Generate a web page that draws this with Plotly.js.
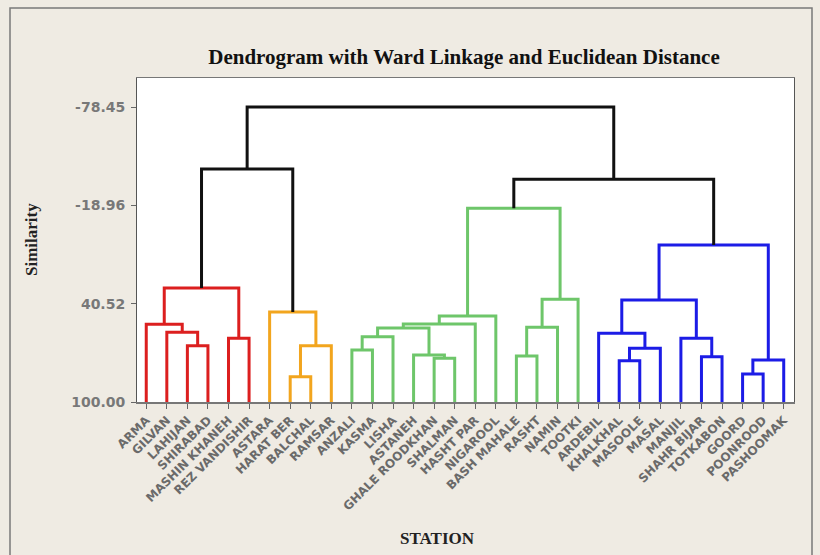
<!DOCTYPE html>
<html>
<head>
<meta charset="utf-8">
<script src="https://cdn.plot.ly/plotly-3.0.1.min.js"></script>
<style>html,body{margin:0;padding:0;background:#efebe3;}#chart{width:820px;height:555px;}</style>
</head>
<body>
<div id="chart"></div>
<script>
// ---- data ----
const stations = ["ARMA","GILVAN","LAHIJAN","SHIRABAD","MASHIN KHANEH","REZ VANDISHIR",
  "ASTARA","HARAT BER","BALCHAL","RAMSAR",
  "ANZALI","KASMA","LISHA","ASTANEH","GHALE ROODKHAN","SHALMAN","HASHT PAR","NIGAROOL","BASH MAHALE","RASHT","NAMIN","TOOTKI",
  "ARDEBIL","KHALKHAL","MASOOLE","MASAL","MANJIL","SHAHR BIJAR","TOTKABON","GOORD","POONROOD","PASHOOMAK"];
const leafCluster = [1,1,1,1,1,1, 2,2,2,2, 3,3,3,3,3,3,3,3,3,3,3,3, 4,4,4,4,4,4,4,4,4,4];
// merges: node ids 0..31 are leaves, merge k creates node 32+k
const mergeLeft   = [2, 1, 0, 4, 34,  7, 37, 6, 36,  10, 41, 14, 13, 42, 45, 46, 18, 48, 49, 47,  23, 52, 22, 27, 26, 54, 29, 58, 57,  51, 40];
const mergeRight  = [3,32,33, 5, 35,  8,  9,38, 39,  11, 12, 15, 43, 44, 16, 17, 19, 20, 21, 50,  24, 25, 53, 28, 55, 56, 30, 31, 59,  60, 61];
const mergeHeight = [65.9,57.8,53.0,61.5,31.0, 84.7,65.9,45.5,-41.0,
  68.5,60.5,73.6,71.6,55.2,52.8,48.0,72.2,54.8,37.9,-17.2,
  75.0,67.5,58.4,72.6,61.5,38.3,83.1,74.6,5.0, -34.7,-78.45];
const yTicks = [100.00, 40.52, -18.96, -78.45];

// ---- build dendrogram segments ----
const n = stations.length;
const nodeX = [], nodeH = [], nodeC = [];
for (let i = 0; i < n; i++) { nodeX.push(i); nodeH.push(100); nodeC.push(leafCluster[i]); }
const palette = {0:"#111111",1:"#dc1f1f",2:"#f2a51e",3:"#6ec66a",4:"#1c1ce6"};
const segs = {0:{x:[],y:[]},1:{x:[],y:[]},2:{x:[],y:[]},3:{x:[],y:[]},4:{x:[],y:[]}};
for (let k = 0; k < mergeLeft.length; k++) {
  const a = mergeLeft[k], b = mergeRight[k], h = mergeHeight[k];
  const c = (nodeC[a] === nodeC[b]) ? nodeC[a] : 0;
  const s = segs[c];
  s.x.push(nodeX[a], nodeX[a], nodeX[b], nodeX[b], null);
  s.y.push(nodeH[a], h, h, nodeH[b], null);
  nodeX.push((nodeX[a] + nodeX[b]) / 2); nodeH.push(h); nodeC.push(c);
}
const traces = [1,2,3,4,0].map(c => ({
  type:"scatter", mode:"lines", x:segs[c].x, y:segs[c].y,
  line:{color:palette[c], width:3}, hoverinfo:"skip", showlegend:false
}));

const L = 137, R = 794, T = 78, B = 402;
const px2x = p => (p - L) / (R - L);
const px2y = p => (B - p) / (B - T);

const layout = {
  width:820, height:555,
  margin:{l:L, r:820-R, t:T, b:555-B},
  paper_bgcolor:"#efebe3", plot_bgcolor:"#ffffff",
  title:{text:"<b>Dendrogram with Ward Linkage and Euclidean Distance</b>",
    font:{family:"Liberation Serif, Times New Roman, serif", size:21, color:"#111"},
    x:px2x(464), xref:"paper", xanchor:"center", y:1-57/555, yref:"container", yanchor:"middle"},
  xaxis:{range:[-0.45, n-0.5], tickmode:"array", tickvals:stations.map((_, i) => i), ticktext:stations,
    tickangle:-45, ticks:"outside", ticklen:5, tickcolor:"#666", tickwidth:1,
    showline:true, linecolor:"#777", linewidth:1.5, mirror:true, showgrid:false, zeroline:false,
    tickfont:{family:"DejaVu Sans", size:12, color:"#6a6a6a", weight:"bold"}},
  yaxis:{range:[100, -96], tickmode:"array", tickvals:yTicks, ticktext:yTicks.map(v => v.toFixed(2)),
    ticks:"outside", ticklen:5, tickcolor:"#666", showline:true, linecolor:"#555", linewidth:1, mirror:true,
    showgrid:false, zeroline:false, ticklabelstandoff:3,
    tickfont:{family:"DejaVu Sans", size:14, color:"#787878", weight:"bold"}},
  annotations:[
    {text:"<b>STATION</b>", xref:"paper", yref:"paper", x:px2x(437), y:px2y(538), xanchor:"center", yanchor:"middle", showarrow:false,
      font:{family:"Liberation Serif, Times New Roman, serif", size:17, color:"#222"}},
    {text:"<b>Similarity</b>", xref:"paper", yref:"paper", x:px2x(31), y:px2y(240), xanchor:"center", yanchor:"middle", textangle:-90, showarrow:false,
      font:{family:"Liberation Serif, Times New Roman, serif", size:17, color:"#222"}}
  ],
  shapes:[
    {type:"rect", xref:"paper", yref:"paper", x0:px2x(10), x1:px2x(812), y0:px2y(8), y1:px2y(562),
      line:{color:"#7a7a7a", width:1.5}, fillcolor:"rgba(0,0,0,0)", layer:"below"}
  ]
};
Plotly.newPlot("chart", traces, layout, {displayModeBar:false, staticPlot:true});
</script>
</body>
</html>
